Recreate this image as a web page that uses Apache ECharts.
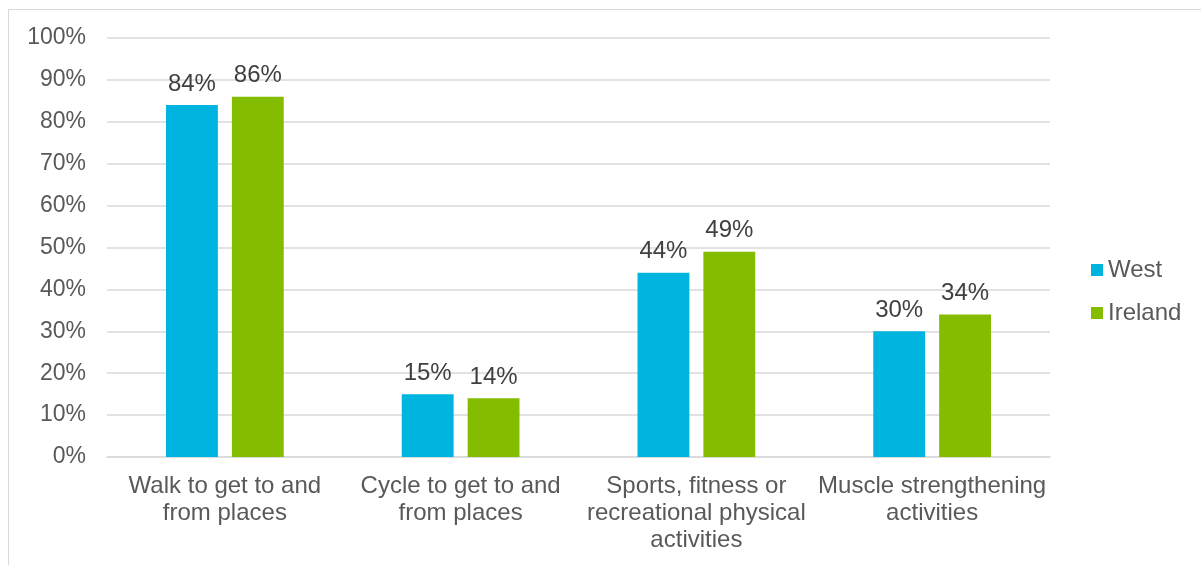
<!DOCTYPE html>
<html><head><meta charset="utf-8">
<script src="https://cdn.jsdelivr.net/npm/echarts@6/dist/echarts.min.js"></script>
<style>html,body{margin:0;padding:0;background:#fff}#frame{position:absolute;left:8px;top:9px;width:1300px;height:700px;border:1.5px solid #d9d9d9;box-sizing:border-box}#c{position:absolute;left:0;top:0;width:1201px;height:565px}</style>
</head><body><div id="frame"></div><div id="c"></div>
<script>
const categories = ["Walk to get to and\nfrom places", "Cycle to get to and\nfrom places", "Sports, fitness or\nrecreational physical\nactivities", "Muscle strengthening\nactivities"];
const westValues = [84, 15, 44, 30];
const irelandValues = [86, 14, 49, 34];
const seriesNames = ["West", "Ireland"];
const chart = echarts.init(document.getElementById('c'));
const font = "'Liberation Sans', Arial, sans-serif";
const lbl = {show: true, position: 'top', distance: 9, formatter: p => p.value + '%', color: '#404040', fontSize: 24, fontFamily: font};
chart.setOption({
  animation: false,
  textStyle: {fontFamily: font},
  grid: {left: 107, right: 151, top: 38, bottom: 108, containLabel: false},
  legend: {orient: 'vertical', left: 1086, top: 253, itemWidth: 12, itemHeight: 12, itemGap: 19, icon: 'rect',
    textStyle: {fontSize: 24, color: '#595959', fontFamily: font}, data: seriesNames},
  xAxis: {type: 'category', data: categories,
    axisLine: {lineStyle: {color: '#d9d9d9', width: 1.5}}, axisTick: {show: false},
    axisLabel: {fontSize: 24, color: '#595959', lineHeight: 27, margin: 16, interval: 0, fontFamily: font}},
  yAxis: {type: 'value', min: 0, max: 100, interval: 10,
    axisLabel: {formatter: '{value}%', fontSize: 23, color: '#595959', margin: 21, fontFamily: font},
    axisLine: {show: false}, axisTick: {show: false},
    splitLine: {lineStyle: {color: '#d9d9d9', width: 1.5}}},
  series: [
    {name: seriesNames[0], type: 'bar', data: westValues, itemStyle: {color: '#00b4e0'}, barWidth: '22%', barGap: '27%', label: lbl},
    {name: seriesNames[1], type: 'bar', data: irelandValues, itemStyle: {color: '#84bc00'}, barWidth: '22%', label: lbl}
  ]
});
</script></body></html>
